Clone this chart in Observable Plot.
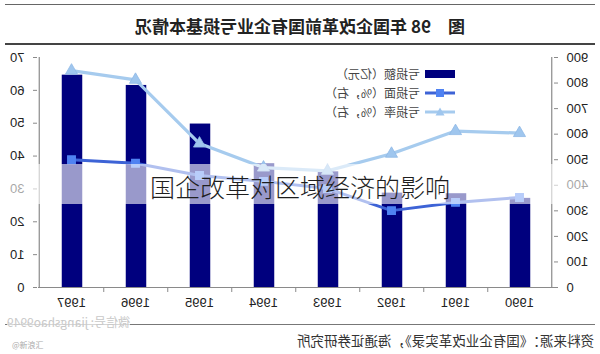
<!DOCTYPE html>
<html>
<head>
<meta charset="utf-8">
<script src="https://cdn.jsdelivr.net/npm/d3@7"></script>
<script src="https://cdn.jsdelivr.net/npm/@observablehq/plot@0.6"></script>
<style>
  html, body { margin: 0; padding: 0; background: #fff; overflow: hidden; }
  #page { position: relative; width: 600px; height: 354px; overflow: hidden; font-family: "Liberation Sans", Arial, sans-serif; }
  #mirror { position: absolute; left: 0; top: 0; width: 600px; height: 354px; transform: scaleX(-1); transform-origin: 300px 177px; }
  .hline { position: absolute; left: 5px; width: 590px; }
  #title { position: absolute; left: 0; width: 600px; top: 14px; text-align: center; font-family: "Noto Sans CJK SC", sans-serif; font-weight: bold; font-size: 17px; color: #222; line-height: 24px; }
  #chart { position: absolute; left: 0; top: 48px; }
  #legend { position: absolute; left: 145px; top: 64px; font-family: "Noto Sans CJK SC", sans-serif; font-size: 12px; color: #444; }
  .lrow { display: flex; align-items: center; height: 19px; }
  .lrow svg { margin-right: 5px; }
  #source { position: absolute; left: 6px; top: 331px; font-family: "Noto Sans CJK SC", sans-serif; font-size: 13.5px; color: #333; line-height: 18px; white-space: nowrap; }
  #wechat { position: absolute; left: 470px; top: 314px; font-family: "Noto Sans CJK SC", sans-serif; font-size: 12px; color: #c8c8c8; line-height: 16px; white-space: nowrap; background: rgba(255,255,255,0.7); }
  #band { position: absolute; left: 0; top: 164px; width: 600px; height: 40px; background: rgba(255,255,255,0.6); }
  #overlay { position: absolute; left: 0; width: 600px; top: 170px; text-align: center; font-family: "Noto Sans CJK SC", sans-serif; font-size: 25px; line-height: 32px; color: #1e1e1e; font-weight: 300; }
  #mark { position: absolute; left: 12px; top: 340px; font-family: "Noto Sans CJK SC", sans-serif; font-size: 8px; color: #aaa; line-height: 10px; }
</style>
</head>
<body>
<div id="page">
  <div id="mirror">
    <div class="hline" style="top:4px;border-top:1.5px solid #666;"></div>
    <div id="title"></div>
    <div class="hline" style="top:43px;border-top:2px solid #444;"></div>
    <div id="chart"></div>
    <div id="legend"></div>
    <div class="hline" style="top:324px;border-top:1.5px solid #777;"></div>
    <div id="wechat"></div>
    <div id="source"></div>
  </div>
  <div id="band"></div>
  <div id="overlay"></div>
  <div id="mark"></div>
</div>
<script>
// ---- data ----
const years = ["1990", "1991", "1992", "1993", "1994", "1995", "1996", "1997"];
const lossAmount = [348.8, 367.0, 369.3, 452.6, 482.6, 639.6, 790.7, 830.9];   // 亿元 (left axis 0-900)
const lossCoverage = [27.4, 25.9, 23.4, 30.1, 32.3, 34.1, 37.8, 38.9];       // %, right axis
const lossRate = [47.0, 47.6, 40.7, 35.5, 36.5, 43.8, 63.2, 66.0];           // %, right axis
const leftTicks = [0, 100, 200, 300, 400, 500, 600, 700, 800, 900];
const rightTicks = [0, 10, 20, 30, 40, 50, 60, 70];
const seriesNames = ["亏损额（亿元）", "亏损面（%，右）", "亏损率（%，右）"];
const titleText = "图　98 年国企改革前国有企业亏损基本情况";
const sourceText = "资料来源：《国有企业改革实录》，海通证券研究所";
const overlayText = "国企改革对区域经济的影响";
const wechatText = "微信号: jiangshao9949";
const markText = "@新浪汇";

const colors = { bar: "#00007e", cov: "#3d63d6", covMark: "#4f82f2", rate: "#a6cbee", rateMark: "#9fc6ee", axis: "#8a8a8a", text: "#222" };

const ratio = 900 / 70;
const rows = years.map((y, i) => ({ year: y, amount: lossAmount[i], cov: lossCoverage[i] * ratio, rate: lossRate[i] * ratio }));

const W = 600, H = 272, mL = 46, mR = 38, mT = 9, mB = 33;
const step = (W - mL - mR) / years.length;
const barW = 21;
const inset = (step - barW) / 2;

const chart = Plot.plot({
  width: W, height: H,
  marginLeft: mL, marginRight: mR, marginTop: mT, marginBottom: mB,
  style: { fontFamily: "Liberation Sans, Arial, sans-serif", fontSize: "13px", color: colors.text, background: "transparent" },
  x: { domain: years, padding: 0, label: null },
  y: { domain: [0, 900], label: null },
  marks: [
    Plot.barY(rows, { x: "year", y: "amount", fill: colors.bar, insetLeft: inset, insetRight: inset }),
    Plot.ruleY([0], { stroke: colors.axis, strokeWidth: 1.2 }),
    Plot.ruleX([years[0]], { dx: -step / 2, stroke: colors.axis, strokeWidth: 1.2 }),
    Plot.ruleX([years[years.length - 1]], { dx: step / 2, stroke: colors.axis, strokeWidth: 1.2 }),
    Plot.axisX({ ticks: years.slice(1), tickSize: 5, dx: -step / 2, tickFormat: () => "", stroke: colors.axis }),
    Plot.axisX({ tickSize: 0, tickPadding: 10, fontSize: 13, fill: colors.text }),
    Plot.axisY({ ticks: leftTicks, anchor: "left", tickSize: 4, tickPadding: 9, fontSize: 13, stroke: colors.axis, fill: colors.text }),
    Plot.axisY({ ticks: rightTicks.map(v => v * ratio), anchor: "right", tickSize: 4, tickPadding: 9, fontSize: 13, stroke: colors.axis, fill: colors.text, tickFormat: d => String(Math.round(d / ratio)) }),
    Plot.line(rows, { x: "year", y: "rate", stroke: colors.rate, strokeWidth: 3.2 }),
    Plot.dot(rows, { x: "year", y: "rate", symbol: "triangle", r: 4.5, fill: colors.rateMark, stroke: "#8fb9e6", strokeWidth: 0.8 }),
    Plot.line(rows, { x: "year", y: "cov", stroke: colors.cov, strokeWidth: 3 }),
    Plot.dot(rows, { x: "year", y: "cov", symbol: "square", r: 4.2, fill: colors.covMark, stroke: colors.covMark })
  ]
});
document.getElementById("chart").appendChild(chart);

document.getElementById("title").textContent = titleText;
document.getElementById("source").textContent = sourceText;
document.getElementById("overlay").textContent = overlayText;
document.getElementById("wechat").textContent = wechatText;
document.getElementById("mark").textContent = markText;

// legend
const lg = document.getElementById("legend");
const swatches = [
  `<svg width="30" height="12"><rect x="0" y="2" width="30" height="8" fill="${colors.bar}"/></svg>`,
  `<svg width="30" height="12"><line x1="0" y1="6" x2="30" y2="6" stroke="${colors.cov}" stroke-width="3"/><rect x="11" y="2" width="8" height="8" fill="${colors.covMark}"/></svg>`,
  `<svg width="30" height="12"><line x1="0" y1="6" x2="30" y2="6" stroke="${colors.rate}" stroke-width="3"/><path d="M15,1.5 L19.5,9.5 L10.5,9.5 Z" fill="${colors.rateMark}"/></svg>`
];
seriesNames.forEach((n, i) => {
  const r = document.createElement("div");
  r.className = "lrow";
  r.innerHTML = swatches[i] + `<span>${n}</span>`;
  lg.appendChild(r);
});
</script>
</body>
</html>
